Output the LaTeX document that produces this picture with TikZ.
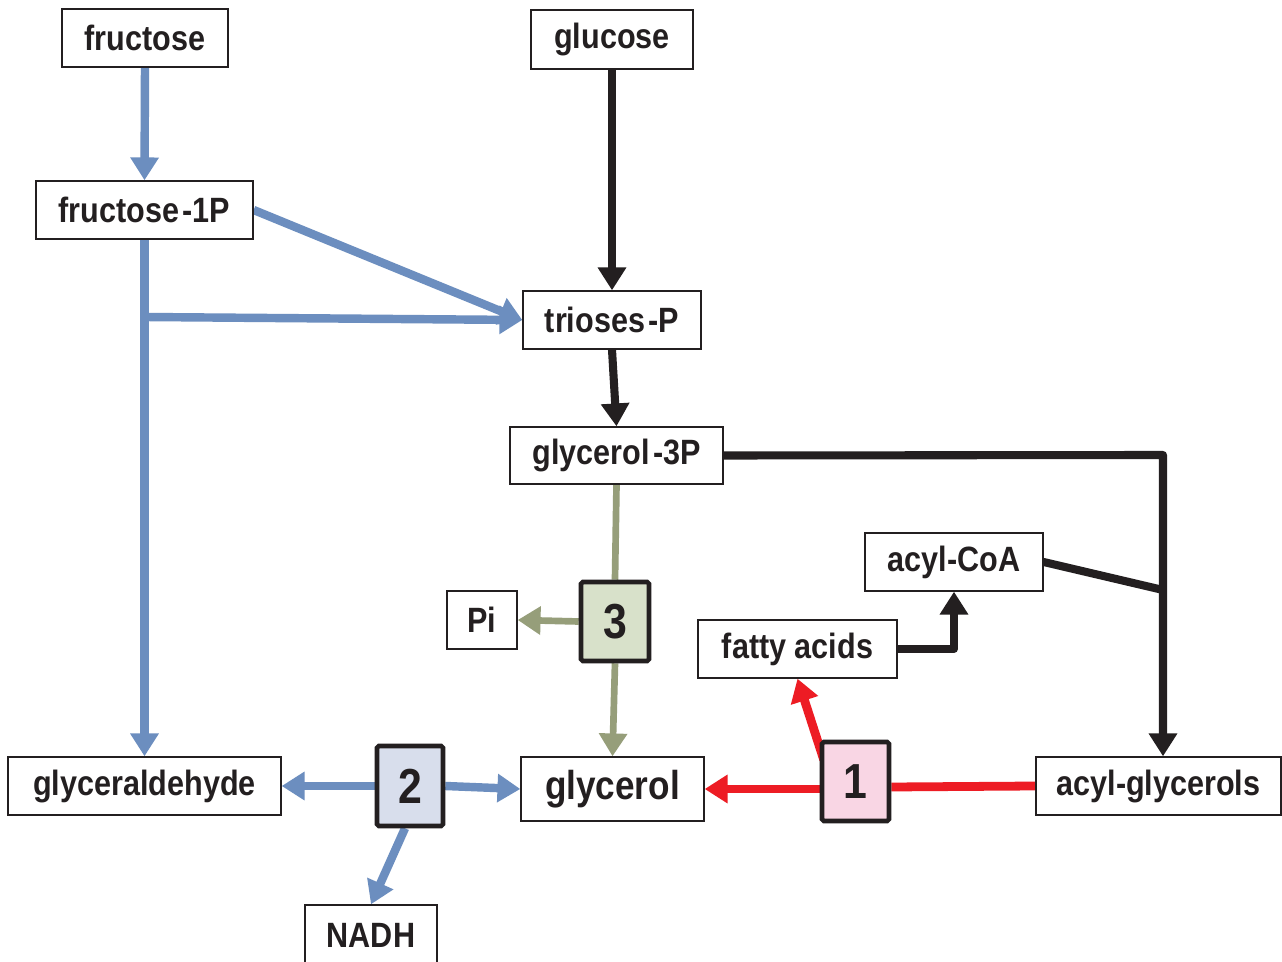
\documentclass[tikz,border=0pt]{standalone}
\usepackage{fontspec}
\setmainfont{Liberation Sans}[FakeStretch=0.87,BoldFeatures={FakeStretch=0.87}]
\usetikzlibrary{arrows.meta,calc}
\pgfdeclarelayer{background}
\pgfdeclarelayer{paper}
\pgfsetlayers{paper,background,main}
\definecolor{cblue}{RGB}{108,142,191}
\definecolor{cred}{RGB}{237,28,36}
\definecolor{cgreen}{RGB}{150,158,122}
\definecolor{cblack}{RGB}{35,31,32}
\definecolor{fpink}{RGB}{249,214,228}
\definecolor{fblue}{RGB}{216,222,236}
\definecolor{fgreen}{RGB}{216,225,202}
\tikzset{
  box/.style={draw=cblack,line width=0.8pt,fill=white,inner sep=0pt,text=cblack,
    font=\fontsize{20}{24}\selectfont\bfseries},
  numbox/.style={draw=cblack,line width=2.6pt,inner sep=0pt,text=cblack,rounded corners=1pt,
    font=\fontsize{28}{32}\selectfont\bfseries},
  tip/.style={-{Triangle[length=13pt,width=15.5pt]}},
  bl/.style={cblue,line width=4.8pt},
  bk/.style={cblack,line width=4.6pt,line join=round},
  rd/.style={cred,line width=5pt},
  gr/.style={cgreen,line width=3.8pt},
}
\begin{document}
\begin{tikzpicture}[x=0.02cm,y=-0.02cm]
\begin{pgfonlayer}{paper}
\fill[white] (0,0) rectangle (1282,962);
\end{pgfonlayer}
\useasboundingbox (0,0) rectangle (1282,962);
% nodes
\node[box,minimum width=3.32cm,minimum height=1.16cm] (fructose) at (145,38) {fructose};
\node[box,minimum width=3.24cm,minimum height=1.18cm] (glucose) at (612,39.5) {glucose};
\node[box,minimum width=4.34cm,minimum height=1.16cm] (f1p) at (144.5,210) {fructose\kern2pt-1P};
\node[box,minimum width=3.56cm,minimum height=1.16cm] (trioses) at (612,320) {trioses\kern2pt-P};
\node[box,minimum width=4.26cm,minimum height=1.14cm] (g3p) at (616.5,455.5) {glycerol\kern2pt-3P};
\node[box,minimum width=3.56cm,minimum height=1.16cm] (acylcoa) at (954,562) {acyl-CoA};
\node[box,minimum width=1.40cm,minimum height=1.16cm] (pi) at (482,620) {Pi};
\node[box,minimum width=3.98cm,minimum height=1.16cm] (fatty) at (797.5,649) {fatty acids};
\node[box,minimum width=5.46cm,minimum height=1.16cm] (glyald) at (144.5,786) {glyceraldehyde};
\node[box,minimum width=3.66cm,minimum height=1.28cm,font=\fontsize{23}{27}\selectfont\bfseries] (glycerol) at (612.5,789) {glycerol};
\node[box,minimum width=4.90cm,minimum height=1.16cm] (acylgly) at (1158.5,786) {acyl-glycerols};
\node[box,minimum width=2.64cm,minimum height=1.20cm] (nadh) at (371,935) {NADH};
\node[numbox,fill=fgreen,minimum width=1.36cm,minimum height=1.58cm] (n3) at (615,621.5) {3};
\node[numbox,fill=fblue,minimum width=1.32cm,minimum height=1.60cm] (n2) at (410,786) {2};
\node[numbox,fill=fpink,minimum width=1.34cm,minimum height=1.58cm] (n1) at (855.5,781.5) {1};
\coordinate (fb) at (145,317);
\coordinate (corner) at (1163,455);
\coordinate (join) at (1163,590);
% connectors
\begin{pgfonlayer}{background}
\draw[bl,tip] (fructose.south) -- (f1p.north);
\draw[bl,tip] (f1p.east) -- (trioses.west);
\draw[bl,tip] (f1p.south) -- (glyald.north);
\draw[bl,tip] (fb) -- (trioses.west);
\draw[bk,tip] (glucose.south) -- (trioses.north);
\draw[bk,tip] (trioses.south) -- (g3p.north);
\draw[bk,tip] (g3p.east) -- (corner) -- (corner |- acylgly.north);
\draw[bk,line cap=round] (acylcoa.east) -- (join);
\draw[bk,tip] (fatty.east) -| (acylcoa.south);
\draw[gr] (g3p.south) -- (n3.north);
\draw[gr,tip] (n3.south) -- (glycerol.north);
\draw[gr,tip] (n3.west) -- (pi.east);
\draw[bl,tip] (n2.west) -- (glyald.east);
\draw[bl,tip] (n2.east) -- (glycerol.west);
\draw[bl,tip] ([xshift=-0.1cm]n2.south) -- (nadh.north);
\draw[rd] (acylgly.west) -- ([yshift=-0.02cm]n1.east |- acylgly.west);
\draw[rd,tip] (n1.west |- glycerol.east) -- (glycerol.east);
\draw[rd,tip] ([shift={(4,20)}]n1.north west) -- (fatty.south);
\end{pgfonlayer}
\end{tikzpicture}
\end{document}
